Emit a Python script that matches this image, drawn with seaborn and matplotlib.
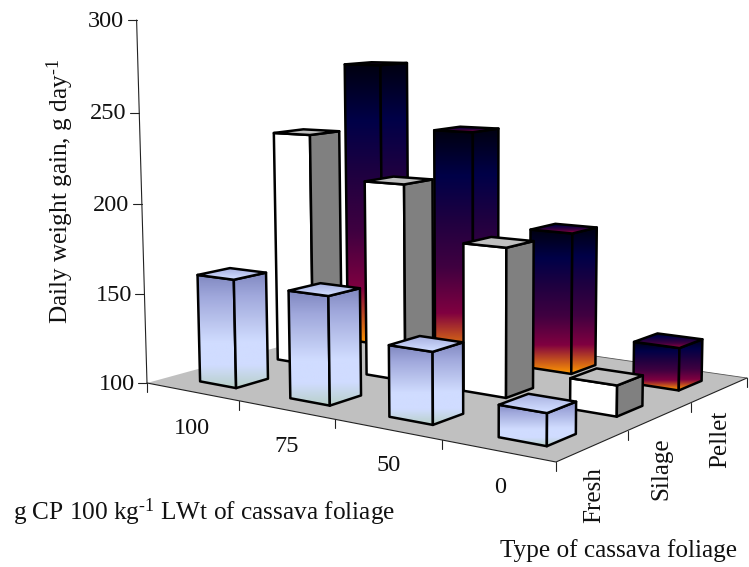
import matplotlib.pyplot as plt
import numpy as np
import seaborn as sns
from matplotlib.patches import Polygon


sns.set_theme(style="white")
plt.rcParams["font.family"] = ["Liberation Serif", "DejaVu Serif"]
plt.rcParams["mathtext.fontset"] = "custom"
plt.rcParams["mathtext.rm"] = "Liberation Serif"
plt.rcParams["mathtext.default"] = "rm"

CP_LEVELS = ["100", "75", "50", "0"]
FOLIAGE = ["Fresh", "Silage", "Pellet"]
Y_TICKS = [100, 150, 200, 250, 300]

FRESH = [160, 158, 137, 116]
SILAGE = [233, 209, 180, 116]
PELLET = [269, 232, 179, 123]

# floor corners and axis top on the page, the 3D view is worked out from these
FLOOR_PX = [(147, 383), (556, 462), (747, 378), (366, 323)]
AXIS_TOP_PX = (137.7, 20)
VERTICAL_VP = (480, 12000)

BLUE = sns.blend_palette(
    ["#b8d0c8", "#d0dcff", "#d0dcff", "#b8c2ec", "#a0a8dc", "#8088c0"],
    as_cmap=True,
)
SUNSET = sns.blend_palette(
    ["#ff9900", "#800040", "#400040", "#200040", "#000048", "#000010"],
    as_cmap=True,
)


def floor_homography():
    src = [(0, 0), (4, 0), (4, 3), (0, 3)]
    rows = []
    for (u, v), (x, y) in zip(src, FLOOR_PX):
        rows.append([u, v, 1, 0, 0, 0, -u * x, -v * x, -x])
        rows.append([0, 0, 0, u, v, 1, -u * y, -v * y, -y])
    return np.linalg.svd(np.array(rows, dtype=float))[2][-1].reshape(3, 3)


H = floor_homography()
H = H / H[2, 2]
# how far one full height unit pulls a point towards the vertical vanishing point
beta = (AXIS_TOP_PX[1] - FLOOR_PX[0][1]) / (VERTICAL_VP[1] - AXIS_TOP_PX[1])


def project(u, v, value=100):
    z = (value - 100) / 200
    p = H @ np.array([u, v, 1.0]) + z * beta * np.array([*VERTICAL_VP, 1.0])
    return p[0] / p[2], p[1] / p[2]


def gradient_face(ax, pts, cmap, t_top, t_bottom, order):
    pts = np.array(pts)
    x0, x1 = pts[:, 0].min(), pts[:, 0].max()
    y0, y1 = pts[:, 1].min(), pts[:, 1].max()
    grad = np.linspace(t_top, t_bottom, 256).reshape(-1, 1)
    im = ax.imshow(
        grad, cmap=cmap, vmin=0, vmax=1, extent=(x0, x1, y1, y0),
        aspect="auto", interpolation="bilinear", origin="upper", zorder=order,
    )
    outline = Polygon(pts, closed=True, fill=False, ec="black", lw=1.8,
                      joinstyle="round", zorder=order + 0.5)
    ax.add_patch(outline)
    im.set_clip_path(outline)


def flat_face(ax, pts, color, order):
    ax.add_patch(Polygon(pts, closed=True, fc=color, ec="black", lw=1.8,
                         joinstyle="round", zorder=order))


def draw_bar(ax, i, j, value, style, order):
    u0, u1 = i + 0.33, i + 0.74
    v0, v1 = j + 0.30, j + 0.70
    front = [project(u0, v0), project(u1, v0), project(u1, v0, value), project(u0, v0, value)]
    side = [project(u1, v0), project(u1, v1), project(u1, v1, value), project(u1, v0, value)]
    top = [project(u0, v0, value), project(u1, v0, value), project(u1, v1, value), project(u0, v1, value)]
    if style == "white":
        flat_face(ax, front, "white", order)
        flat_face(ax, side, "#808080", order + 1)
        flat_face(ax, top, "#c0c0c0", order + 2)
    elif style == "blue":
        gradient_face(ax, front, BLUE, 1, 0, order)
        gradient_face(ax, side, BLUE, 1, 0, order + 1)
        gradient_face(ax, top, BLUE, 0.75, 0.35, order + 2)
    else:
        gradient_face(ax, front, SUNSET, 1, 0, order)
        gradient_face(ax, side, SUNSET, 1, 0, order + 1)
        gradient_face(ax, top, SUNSET, 1, 0.12, order + 2)


fig = plt.figure(figsize=(7.49, 5.67), dpi=100)
ax = fig.add_axes([0, 0, 1, 1])
ax.axis("off")

# floor
corners = [project(0, 0), project(4, 0), project(4, 3), project(0, 3)]
ax.add_patch(Polygon(corners, closed=True, fc="#c0c0c0", ec="none", zorder=1))
edge = dict(color="#222222", lw=0.8, zorder=1.5)
ax.plot(*zip(corners[0], corners[1], corners[2]), **edge)
ax.plot(*zip(corners[2], corners[3]), color="#555555", lw=0.6, zorder=1.5)

# bars, back row first so the nearer ones cover them
rows = [(2, PELLET, "sunset"), (1, SILAGE, "white"), (0, FRESH, "blue")]
order = 2
for j, values, style in rows:
    for i, value in enumerate(values):
        draw_bar(ax, i, j, value, style, order)
        order += 3

# value axis
ax.plot(*zip(project(0, 0, Y_TICKS[0]), project(0, 0, Y_TICKS[-1])), **edge)
for tick in Y_TICKS:
    x, y = project(0, 0, tick)
    ax.plot([x - 9, x], [y, y], **edge)
    ax.text(x - 12.5, y + 1, str(tick), ha="right", va="center", fontsize=17.5, color="#111111")

# floor ticks, the inner ones sit a little past the even split
for i in range(5):
    x, y = project(i + (0.04 if 0 < i < 4 else 0), 0)
    ax.plot([x, x], [y, y + 9], **edge)
for j in range(1, 4):
    x, y = project(4, j)
    ax.plot([x, x], [y, y + 9], **edge)

for i, label in enumerate(CP_LEVELS):
    x, y = project(i + 0.5, 0)
    ax.text(x + (2 if i == 0 else 5), y + 37, label, ha="center", va="center", fontsize=17.5, color="#111111")

for j, label in enumerate(FOLIAGE):
    x, y = project(4, j + 0.5)
    ax.text(x + 1, y + 21, label, ha="center", va="top", rotation=90, fontsize=18, color="#111111")

ax.text(60, 192, r"Daily weight gain, g day$^{\text{-1}}$", rotation=90,
        ha="center", va="center", fontsize=18.2, color="#111111")
ax.text(13, 512, r"g CP 100 kg$^{\text{-1}}$ LWt of cassava foliage",
        ha="left", va="center", fontsize=18.2, color="#111111")
ax.text(500, 551, "Type of cassava foliage", ha="left", va="center",
        fontsize=18.2, color="#111111")

ax.set_xlim(0, 749)
ax.set_ylim(567, 0)

fig.savefig("out.png", dpi=100)
